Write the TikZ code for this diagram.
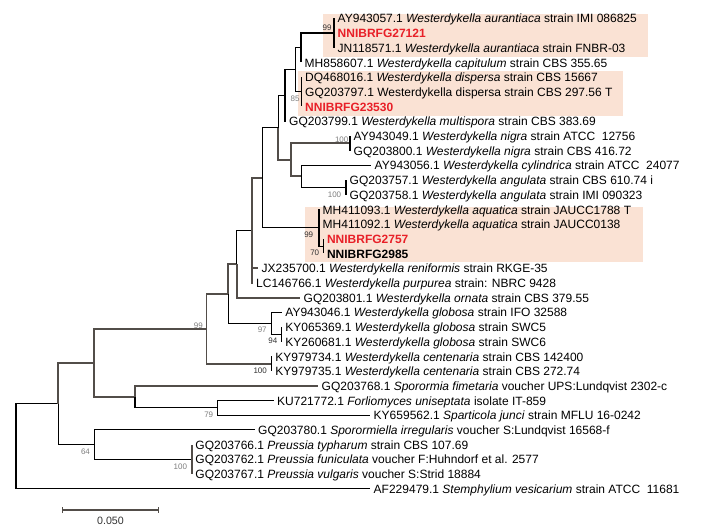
\documentclass[tikz,border=0pt]{standalone}
\usepackage{fontspec}
\setmainfont{Liberation Sans}
\usetikzlibrary{arrows.meta, positioning}
\definecolor{isored}{RGB}{232,32,40}
\definecolor{cladebg}{RGB}{250,226,212}
\definecolor{bootgray}{RGB}{125,125,125}
\definecolor{bootdark}{RGB}{50,50,50}
\definecolor{branchgray}{RGB}{82,77,73}

\begin{document}
\begin{tikzpicture}[
        x=0.75pt, y=-0.75pt,
        leaf/.style={anchor=west, inner xsep=2.6pt, inner ysep=0pt, text height=8.5pt, text depth=1.5pt, font=\fontsize{9}{11}\selectfont},
        isolate/.style={leaf, font=\fontsize{9}{11}\selectfont\bfseries, text=isored},
        boot/.style={inner sep=0pt, font=\fontsize{6}{7}\selectfont, text=bootgray},
        bootd/.style={boot, text=bootdark},
        branch/.style={line width=0.8pt},
        gbranch/.style={line width=1.45pt, draw=branchgray},
        clade/.style={fill=cladebg, draw=none},
        scalebar/.style={line width=1.2pt, draw=branchgray, {Bar[width=4.5pt]}-{Bar[width=4.5pt]}}
    ]
        \useasboundingbox (0,0) rectangle (704,531);

        % Highlighted clades
        \fill[clade] (322.7,14.3) rectangle (648.3,56.7);
        \fill[clade] (297.7,70.7) rectangle (623.3,116);
        \fill[clade] (305,206.7) rectangle (643.3,261.7);

        % Internal nodes
        \coordinate (nAur) at (334,33);
        \coordinate (nAC) at (301,47.7);
        \coordinate (nDisp) at (301.5,91.8);
        \coordinate (nN5) at (295.7,69.75);
        \coordinate (nN6) at (285,95.5);
        \coordinate (nNig) at (350,143.25);
        \coordinate (nAng) at (346,187.35);
        \coordinate (nN3) at (301.7,176.3);
        \coordinate (nN2) at (290.7,159.8);
        \coordinate (nN1) at (278.3,127.6);
        \coordinate (nAq2) at (323.3,246.15);
        \coordinate (nAq1) at (319,227.8);
        \coordinate (nN4) at (262.7,177.7);
        \coordinate (nN7) at (251.7,230.3);
        \coordinate (nN8) at (236.7,264);
        \coordinate (nGl2) at (281.7,334.35);
        \coordinate (nGl1) at (271.7,323.3);
        \coordinate (nN9) at (228.3,293.7);
        \coordinate (nCent) at (271.7,363.75);
        \coordinate (nWest) at (206.5,328.7);
        \coordinate (nE) at (217.3,407.85);
        \coordinate (nC) at (135,396.8);
        \coordinate (nB) at (94,362.75);
        \coordinate (nPre) at (191.7,459.3);
        \coordinate (nD) at (94.3,444.6);
        \coordinate (nA) at (58.3,403.7);
        \coordinate (root) at (16,446.2);

        % Taxa
        \node[leaf] (aurA) at (334,18.3) {AY943057.1 \textit{Westerdykella aurantiaca} strain IMI 086825};
        \node[isolate] (fg27121) at (334,33) {NNIBRFG27121};
        \node[leaf] (aurB) at (334,47.7) {JN118571.1 \textit{Westerdykella aurantiaca} strain FNBR-03};
        \node[leaf] (capit) at (301,62.4) {MH858607.1 \textit{Westerdykella capitulum} strain CBS 355.65};
        \node[leaf] (dispA) at (301.5,77.1) {DQ468016.1 \textit{Westerdykella dispersa} strain CBS 15667};
        \node[leaf] (dispB) at (301.5,91.8) {GQ203797.1 Westerdykella dispersa strain CBS 297.56 T};
        \node[isolate] (fg23530) at (301.5,106.5) {NNIBRFG23530};
        \node[leaf] (multi) at (285.5,121.2) {GQ203799.1 \textit{Westerdykella multispora} strain CBS 383.69};
        \node[leaf] (nigA) at (350,135.9) {AY943049.1 \textit{Westerdykella nigra} strain ATCC~~12756};
        \node[leaf] (nigB) at (350,150.6) {GQ203800.1 \textit{Westerdykella nigra} strain CBS 416.72};
        \node[leaf] (cylin) at (371,165.3) {AY943056.1 \textit{Westerdykella cylindrica} strain ATCC~~24077};
        \node[leaf] (angA) at (346,180) {GQ203757.1 \textit{Westerdykella angulata} strain CBS 610.74 i};
        \node[leaf] (angB) at (346,194.7) {GQ203758.1 \textit{Westerdykella angulata} strain IMI 090323};
        \node[leaf] (aquA) at (319,209.4) {MH411093.1 \textit{Westerdykella aquatica} strain JAUCC1788 T};
        \node[leaf] (aquB) at (319,224.1) {MH411092.1 \textit{Westerdykella aquatica} strain JAUCC0138};
        \node[isolate] (fg2757) at (323.3,238.8) {NNIBRFG2757};
        \node[leaf, font=\fontsize{9}{11}\selectfont\bfseries] (fg2985) at (323.3,253.5) {NNIBRFG2985};
        \node[leaf] (renif) at (258,268.2) {JX235700.1 \textit{Westerdykella reniformis} strain RKGE-35};
        \node[leaf] (purp) at (252.5,282.9) {LC146766.1 \textit{Westerdykella purpurea} strain: NBRC 9428};
        \node[leaf] (ornata) at (300,297.6) {GQ203801.1 \textit{Westerdykella ornata} strain CBS 379.55};
        \node[leaf] (globA) at (281.7,312.3) {AY943046.1 \textit{Westerdykella globosa} strain IFO 32588};
        \node[leaf] (globB) at (281.7,327) {KY065369.1 \textit{Westerdykella globosa} strain SWC5};
        \node[leaf] (globC) at (281.7,341.7) {KY260681.1 \textit{Westerdykella globosa} strain SWC6};
        \node[leaf] (centA) at (271.7,356.4) {KY979734.1 \textit{Westerdykella centenaria} strain CBS 142400};
        \node[leaf] (centB) at (271.7,371.1) {KY979735.1 \textit{Westerdykella centenaria} strain CBS 272.74};
        \node[leaf] (spfim) at (318,385.8) {GQ203768.1 \textit{Sporormia fimetaria} voucher UPS:Lundqvist 2302-c};
        \node[leaf] (forli) at (273.5,400.5) {KU721772.1 \textit{Forliomyces uniseptata} isolate IT-859};
        \node[leaf] (spart) at (370,415.2) {KY659562.1 \textit{Sparticola junci} strain MFLU 16-0242};
        \node[leaf] (spirr) at (254.5,429.9) {GQ203780.1 \textit{Sporormiella irregularis} voucher S:Lundqvist 16568-f};
        \node[leaf] (ptyph) at (191.7,444.6) {GQ203766.1 \textit{Preussia typharum} strain CBS 107.69};
        \node[leaf] (pfuni) at (191.7,459.3) {GQ203762.1 \textit{Preussia funiculata} voucher F:Huhndorf et al. 2577};
        \node[leaf] (pvulg) at (191.7,474) {GQ203767.1 \textit{Preussia vulgaris} voucher S:Strid 18884};
        \node[leaf] (stemph) at (370,488.7) {AF229479.1 \textit{Stemphylium vesicarium} strain ATCC~~11681};

        % Branches
        \draw[branch] (root) |- (nA);
        \draw[branch] (root) |- (stemph.west);
        \draw[gbranch] (nA) |- (nB);
        \draw[branch] (nA) |- (nD);
        \draw[gbranch] (nB) |- (nWest);
        \draw[gbranch] (nB) |- (nC);
        \draw[gbranch] (nWest) |- (nN9);
        \draw[gbranch] (nWest) |- (nCent);
        \draw[gbranch] (nN9) |- (nN8);
        \draw[branch] (nN9) |- (nGl1);
        \draw[branch] (nN8) |- (nN7);
        \draw[gbranch] (nN8) |- (ornata.west);
        \draw[gbranch] (nN7) |- (nN4);
        \draw[gbranch] (nN7) |- (renif.west);
        \draw[gbranch] (nN7) |- (purp.west);
        \draw[branch] (nN4) |- (nN1);
        \draw[branch] (nN4) |- (nAq1);
        \draw[branch] (nN1) |- (nN6);
        \draw[gbranch] (nN1) |- (nN2);
        \draw[branch] (nN6) |- (nN5);
        \draw[branch] (nN6) |- (multi.west);
        \draw[branch] (nN5) |- (nAC);
        \draw[branch] (nN5) |- (nDisp);
        \draw[branch] (nAC) |- (nAur);
        \draw[branch] (nAC) |- (capit.west);
        \draw[branch] (nAur) |- (aurA.west);
        \draw[branch] (nAur) |- (aurB.west);
        \draw[branch] (nDisp) |- (dispA.west);
        \draw[branch] (nDisp) |- (fg23530.west);
        \draw[gbranch] (nN2) |- (nNig);
        \draw[gbranch] (nN2) |- (nN3);
        \draw[branch] (nN3) |- (cylin.west);
        \draw[branch] (nN3) |- (nAng);
        \draw[branch] (nNig) |- (nigA.west);
        \draw[branch] (nNig) |- (nigB.west);
        \draw[branch] (nAng) |- (angA.west);
        \draw[branch] (nAng) |- (angB.west);
        \draw[branch] (nAq1) |- (aquA.west);
        \draw[branch] (nAq1) |- (nAq2);
        \draw[branch] (nAq2) |- (fg2757.west);
        \draw[branch] (nAq2) |- (fg2985.west);
        \draw[branch] (nGl1) |- (globA.west);
        \draw[branch] (nGl1) |- (nGl2);
        \draw[branch] (nGl2) |- (globB.west);
        \draw[branch] (nGl2) |- (globC.west);
        \draw[branch] (nCent) |- (centA.west);
        \draw[branch] (nCent) |- (centB.west);
        \draw[gbranch] (nC) |- (spfim.west);
        \draw[branch] (nC) |- (nE);
        \draw[branch] (nE) |- (forli.west);
        \draw[branch] (nE) |- (spart.west);
        \draw[branch] (nD) |- (spirr.west);
        \draw[branch] (nD) |- (nPre);
        \draw[gbranch] (nPre) |- (ptyph.west);
        \draw[gbranch] (nPre) |- (pvulg.west);

        % Bootstrap values
        \node[bootd] (bsAur) at (327,27.7) {99};
        \node[boot] (bsDisp) at (295,98.3) {85};
        \node[boot] (bsNig) at (341.7,140) {100};
        \node[boot] (bsAng) at (334.5,194.7) {100};
        \node[bootd] (bsAq1) at (308.7,235) {99};
        \node[bootd] (bsAq2) at (314.7,252.7) {70};
        \node[boot] (bsWest) at (198.3,325.3) {99};
        \node[boot] (bsGl1) at (262.2,329.7) {97};
        \node[bootd] (bsGl2) at (272.8,340.7) {94};
        \node[bootd] (bsCent) at (260.2,370.3) {100};
        \node[boot] (bsE) at (208.7,414.5) {79};
        \node[boot] (bsD) at (85.5,451.7) {64};
        \node[boot] (bsPre) at (180.3,466.3) {100};

        % Scale bar
        \coordinate (sbL) at (61.7,510);
        \coordinate (sbR) at (159.3,510);
        \draw[scalebar] (sbL) -- (sbR);
        \node[inner sep=0pt, font=\fontsize{8}{9}\selectfont, text=bootdark] (sbText) at (110.5,520.5) {0.050};
    \end{tikzpicture}
\end{document}
